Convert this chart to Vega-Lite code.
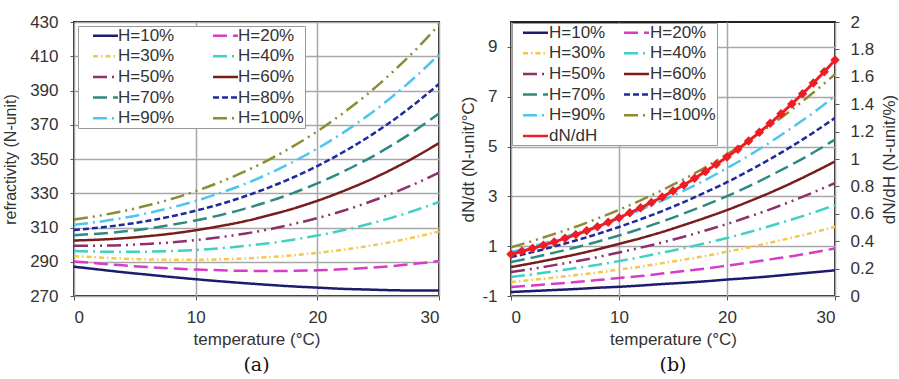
{
"$schema": "https://vega.github.io/schema/vega-lite/v6.json",
"padding": {"left": 1, "top": 12, "right": 2, "bottom": 2},
"spacing": 17,
"config": {
  "font": "Liberation Sans",
  "view": {"stroke": "#222", "strokeWidth": 2},
  "axis": {"labelFontSize": 17, "titleFontSize": 17, "titleFontWeight": "normal", "labelColor": "#333", "titleColor": "#333", "gridColor": "#a8a8a8", "gridWidth": 1.5, "domain": false, "tickColor": "#555", "tickSize": 4},
  "legend": {"labelFontSize": 17, "labelColor": "#333"}
},
"datasets": {
"a": [
{"T":0,"s":"H=10%","v":287.1},{"T":0,"s":"H=20%","v":290.2},{"T":0,"s":"H=30%","v":293.3},{"T":0,"s":"H=40%","v":296.3},{"T":0,"s":"H=50%","v":299.4},{"T":0,"s":"H=60%","v":302.4},{"T":0,"s":"H=70%","v":305.5},{"T":0,"s":"H=80%","v":308.5},{"T":0,"s":"H=90%","v":311.6},{"T":0,"s":"H=100%","v":314.6},
{"T":2,"s":"H=10%","v":285.5},{"T":2,"s":"H=20%","v":289.0},{"T":2,"s":"H=30%","v":292.5},{"T":2,"s":"H=40%","v":295.9},{"T":2,"s":"H=50%","v":299.4},{"T":2,"s":"H=60%","v":302.9},{"T":2,"s":"H=70%","v":306.4},{"T":2,"s":"H=80%","v":309.9},{"T":2,"s":"H=90%","v":313.3},{"T":2,"s":"H=100%","v":316.8},
{"T":4,"s":"H=10%","v":283.9},{"T":4,"s":"H=20%","v":287.9},{"T":4,"s":"H=30%","v":291.8},{"T":4,"s":"H=40%","v":295.8},{"T":4,"s":"H=50%","v":299.7},{"T":4,"s":"H=60%","v":303.7},{"T":4,"s":"H=70%","v":307.6},{"T":4,"s":"H=80%","v":311.6},{"T":4,"s":"H=90%","v":315.5},{"T":4,"s":"H=100%","v":319.5},
{"T":6,"s":"H=10%","v":282.5},{"T":6,"s":"H=20%","v":286.9},{"T":6,"s":"H=30%","v":291.4},{"T":6,"s":"H=40%","v":295.9},{"T":6,"s":"H=50%","v":300.4},{"T":6,"s":"H=60%","v":304.9},{"T":6,"s":"H=70%","v":309.3},{"T":6,"s":"H=80%","v":313.8},{"T":6,"s":"H=90%","v":318.3},{"T":6,"s":"H=100%","v":322.8},
{"T":8,"s":"H=10%","v":281.1},{"T":8,"s":"H=20%","v":286.1},{"T":8,"s":"H=30%","v":291.2},{"T":8,"s":"H=40%","v":296.3},{"T":8,"s":"H=50%","v":301.3},{"T":8,"s":"H=60%","v":306.4},{"T":8,"s":"H=70%","v":311.5},{"T":8,"s":"H=80%","v":316.5},{"T":8,"s":"H=90%","v":321.6},{"T":8,"s":"H=100%","v":326.6},
{"T":10,"s":"H=10%","v":279.8},{"T":10,"s":"H=20%","v":285.5},{"T":10,"s":"H=30%","v":291.2},{"T":10,"s":"H=40%","v":296.9},{"T":10,"s":"H=50%","v":302.6},{"T":10,"s":"H=60%","v":308.4},{"T":10,"s":"H=70%","v":314.1},{"T":10,"s":"H=80%","v":319.8},{"T":10,"s":"H=90%","v":325.5},{"T":10,"s":"H=100%","v":331.2},
{"T":12,"s":"H=10%","v":278.6},{"T":12,"s":"H=20%","v":285.0},{"T":12,"s":"H=30%","v":291.4},{"T":12,"s":"H=40%","v":297.9},{"T":12,"s":"H=50%","v":304.3},{"T":12,"s":"H=60%","v":310.8},{"T":12,"s":"H=70%","v":317.2},{"T":12,"s":"H=80%","v":323.6},{"T":12,"s":"H=90%","v":330.1},{"T":12,"s":"H=100%","v":336.5},
{"T":14,"s":"H=10%","v":277.5},{"T":14,"s":"H=20%","v":284.7},{"T":14,"s":"H=30%","v":291.9},{"T":14,"s":"H=40%","v":299.2},{"T":14,"s":"H=50%","v":306.4},{"T":14,"s":"H=60%","v":313.6},{"T":14,"s":"H=70%","v":320.9},{"T":14,"s":"H=80%","v":328.1},{"T":14,"s":"H=90%","v":335.3},{"T":14,"s":"H=100%","v":342.6},
{"T":16,"s":"H=10%","v":276.5},{"T":16,"s":"H=20%","v":284.6},{"T":16,"s":"H=30%","v":292.7},{"T":16,"s":"H=40%","v":300.8},{"T":16,"s":"H=50%","v":308.9},{"T":16,"s":"H=60%","v":317.1},{"T":16,"s":"H=70%","v":325.2},{"T":16,"s":"H=80%","v":333.3},{"T":16,"s":"H=90%","v":341.4},{"T":16,"s":"H=100%","v":349.5},
{"T":18,"s":"H=10%","v":275.6},{"T":18,"s":"H=20%","v":284.7},{"T":18,"s":"H=30%","v":293.8},{"T":18,"s":"H=40%","v":302.9},{"T":18,"s":"H=50%","v":312.0},{"T":18,"s":"H=60%","v":321.0},{"T":18,"s":"H=70%","v":330.1},{"T":18,"s":"H=80%","v":339.2},{"T":18,"s":"H=90%","v":348.3},{"T":18,"s":"H=100%","v":357.4},
{"T":20,"s":"H=10%","v":274.9},{"T":20,"s":"H=20%","v":285.0},{"T":20,"s":"H=30%","v":295.2},{"T":20,"s":"H=40%","v":305.3},{"T":20,"s":"H=50%","v":315.5},{"T":20,"s":"H=60%","v":325.6},{"T":20,"s":"H=70%","v":335.8},{"T":20,"s":"H=80%","v":345.9},{"T":20,"s":"H=90%","v":356.1},{"T":20,"s":"H=100%","v":366.2},
{"T":22,"s":"H=10%","v":274.2},{"T":22,"s":"H=20%","v":285.6},{"T":22,"s":"H=30%","v":296.9},{"T":22,"s":"H=40%","v":308.2},{"T":22,"s":"H=50%","v":319.5},{"T":22,"s":"H=60%","v":330.9},{"T":22,"s":"H=70%","v":342.2},{"T":22,"s":"H=80%","v":353.5},{"T":22,"s":"H=90%","v":364.8},{"T":22,"s":"H=100%","v":376.2},
{"T":24,"s":"H=10%","v":273.8},{"T":24,"s":"H=20%","v":286.4},{"T":24,"s":"H=30%","v":299.0},{"T":24,"s":"H=40%","v":311.6},{"T":24,"s":"H=50%","v":324.2},{"T":24,"s":"H=60%","v":336.8},{"T":24,"s":"H=70%","v":349.4},{"T":24,"s":"H=80%","v":362.0},{"T":24,"s":"H=90%","v":374.6},{"T":24,"s":"H=100%","v":387.2},
{"T":26,"s":"H=10%","v":273.4},{"T":26,"s":"H=20%","v":287.4},{"T":26,"s":"H=30%","v":301.4},{"T":26,"s":"H=40%","v":315.5},{"T":26,"s":"H=50%","v":329.5},{"T":26,"s":"H=60%","v":343.5},{"T":26,"s":"H=70%","v":357.5},{"T":26,"s":"H=80%","v":371.5},{"T":26,"s":"H=90%","v":385.5},{"T":26,"s":"H=100%","v":399.6},
{"T":28,"s":"H=10%","v":273.2},{"T":28,"s":"H=20%","v":288.8},{"T":28,"s":"H=30%","v":304.3},{"T":28,"s":"H=40%","v":319.9},{"T":28,"s":"H=50%","v":335.4},{"T":28,"s":"H=60%","v":351.0},{"T":28,"s":"H=70%","v":366.5},{"T":28,"s":"H=80%","v":382.1},{"T":28,"s":"H=90%","v":397.6},{"T":28,"s":"H=100%","v":413.2},
{"T":30,"s":"H=10%","v":273.2},{"T":30,"s":"H=20%","v":290.4},{"T":30,"s":"H=30%","v":307.7},{"T":30,"s":"H=40%","v":324.9},{"T":30,"s":"H=50%","v":342.1},{"T":30,"s":"H=60%","v":359.3},{"T":30,"s":"H=70%","v":376.6},{"T":30,"s":"H=80%","v":393.8},{"T":30,"s":"H=90%","v":411.0},{"T":30,"s":"H=100%","v":428.3}
],
"b": [
{"T":0,"s":"H=10%","v":-0.84},{"T":0,"s":"H=20%","v":-0.64},{"T":0,"s":"H=30%","v":-0.44},{"T":0,"s":"H=40%","v":-0.24},{"T":0,"s":"H=50%","v":-0.04},{"T":0,"s":"H=60%","v":0.16},{"T":0,"s":"H=70%","v":0.36},{"T":0,"s":"H=80%","v":0.56},{"T":0,"s":"H=90%","v":0.76},{"T":0,"s":"H=100%","v":0.96},
{"T":2,"s":"H=10%","v":-0.80},{"T":2,"s":"H=20%","v":-0.58},{"T":2,"s":"H=30%","v":-0.35},{"T":2,"s":"H=40%","v":-0.13},{"T":2,"s":"H=50%","v":0.09},{"T":2,"s":"H=60%","v":0.32},{"T":2,"s":"H=70%","v":0.54},{"T":2,"s":"H=80%","v":0.76},{"T":2,"s":"H=90%","v":0.99},{"T":2,"s":"H=100%","v":1.21},
{"T":4,"s":"H=10%","v":-0.76},{"T":4,"s":"H=20%","v":-0.51},{"T":4,"s":"H=30%","v":-0.26},{"T":4,"s":"H=40%","v":-0.01},{"T":4,"s":"H=50%","v":0.24},{"T":4,"s":"H=60%","v":0.49},{"T":4,"s":"H=70%","v":0.74},{"T":4,"s":"H=80%","v":0.99},{"T":4,"s":"H=90%","v":1.24},{"T":4,"s":"H=100%","v":1.49},
{"T":6,"s":"H=10%","v":-0.72},{"T":6,"s":"H=20%","v":-0.44},{"T":6,"s":"H=30%","v":-0.16},{"T":6,"s":"H=40%","v":0.12},{"T":6,"s":"H=50%","v":0.39},{"T":6,"s":"H=60%","v":0.67},{"T":6,"s":"H=70%","v":0.95},{"T":6,"s":"H=80%","v":1.23},{"T":6,"s":"H=90%","v":1.51},{"T":6,"s":"H=100%","v":1.78},
{"T":8,"s":"H=10%","v":-0.67},{"T":8,"s":"H=20%","v":-0.36},{"T":8,"s":"H=30%","v":-0.06},{"T":8,"s":"H=40%","v":0.25},{"T":8,"s":"H=50%","v":0.56},{"T":8,"s":"H=60%","v":0.87},{"T":8,"s":"H=70%","v":1.18},{"T":8,"s":"H=80%","v":1.49},{"T":8,"s":"H=90%","v":1.80},{"T":8,"s":"H=100%","v":2.11},
{"T":10,"s":"H=10%","v":-0.63},{"T":10,"s":"H=20%","v":-0.28},{"T":10,"s":"H=30%","v":0.06},{"T":10,"s":"H=40%","v":0.40},{"T":10,"s":"H=50%","v":0.75},{"T":10,"s":"H=60%","v":1.09},{"T":10,"s":"H=70%","v":1.43},{"T":10,"s":"H=80%","v":1.77},{"T":10,"s":"H=90%","v":2.12},{"T":10,"s":"H=100%","v":2.46},
{"T":12,"s":"H=10%","v":-0.58},{"T":12,"s":"H=20%","v":-0.20},{"T":12,"s":"H=30%","v":0.18},{"T":12,"s":"H=40%","v":0.56},{"T":12,"s":"H=50%","v":0.94},{"T":12,"s":"H=60%","v":1.32},{"T":12,"s":"H=70%","v":1.70},{"T":12,"s":"H=80%","v":2.08},{"T":12,"s":"H=90%","v":2.46},{"T":12,"s":"H=100%","v":2.84},
{"T":14,"s":"H=10%","v":-0.52},{"T":14,"s":"H=20%","v":-0.10},{"T":14,"s":"H=30%","v":0.32},{"T":14,"s":"H=40%","v":0.74},{"T":14,"s":"H=50%","v":1.15},{"T":14,"s":"H=60%","v":1.57},{"T":14,"s":"H=70%","v":1.99},{"T":14,"s":"H=80%","v":2.41},{"T":14,"s":"H=90%","v":2.83},{"T":14,"s":"H=100%","v":3.25},
{"T":16,"s":"H=10%","v":-0.47},{"T":16,"s":"H=20%","v":0.00},{"T":16,"s":"H=30%","v":0.46},{"T":16,"s":"H=40%","v":0.92},{"T":16,"s":"H=50%","v":1.38},{"T":16,"s":"H=60%","v":1.85},{"T":16,"s":"H=70%","v":2.31},{"T":16,"s":"H=80%","v":2.77},{"T":16,"s":"H=90%","v":3.23},{"T":16,"s":"H=100%","v":3.69},
{"T":18,"s":"H=10%","v":-0.41},{"T":18,"s":"H=20%","v":0.10},{"T":18,"s":"H=30%","v":0.61},{"T":18,"s":"H=40%","v":1.12},{"T":18,"s":"H=50%","v":1.63},{"T":18,"s":"H=60%","v":2.14},{"T":18,"s":"H=70%","v":2.65},{"T":18,"s":"H=80%","v":3.16},{"T":18,"s":"H=90%","v":3.66},{"T":18,"s":"H=100%","v":4.17},
{"T":20,"s":"H=10%","v":-0.34},{"T":20,"s":"H=20%","v":0.22},{"T":20,"s":"H=30%","v":0.78},{"T":20,"s":"H=40%","v":1.33},{"T":20,"s":"H=50%","v":1.89},{"T":20,"s":"H=60%","v":2.45},{"T":20,"s":"H=70%","v":3.01},{"T":20,"s":"H=80%","v":3.57},{"T":20,"s":"H=90%","v":4.13},{"T":20,"s":"H=100%","v":4.69},
{"T":22,"s":"H=10%","v":-0.28},{"T":22,"s":"H=20%","v":0.34},{"T":22,"s":"H=30%","v":0.95},{"T":22,"s":"H=40%","v":1.56},{"T":22,"s":"H=50%","v":2.18},{"T":22,"s":"H=60%","v":2.79},{"T":22,"s":"H=70%","v":3.40},{"T":22,"s":"H=80%","v":4.02},{"T":22,"s":"H=90%","v":4.63},{"T":22,"s":"H=100%","v":5.24},
{"T":24,"s":"H=10%","v":-0.21},{"T":24,"s":"H=20%","v":0.47},{"T":24,"s":"H=30%","v":1.14},{"T":24,"s":"H=40%","v":1.81},{"T":24,"s":"H=50%","v":2.48},{"T":24,"s":"H=60%","v":3.15},{"T":24,"s":"H=70%","v":3.83},{"T":24,"s":"H=80%","v":4.50},{"T":24,"s":"H=90%","v":5.17},{"T":24,"s":"H=100%","v":5.84},
{"T":26,"s":"H=10%","v":-0.13},{"T":26,"s":"H=20%","v":0.60},{"T":26,"s":"H=30%","v":1.34},{"T":26,"s":"H=40%","v":2.07},{"T":26,"s":"H=50%","v":2.81},{"T":26,"s":"H=60%","v":3.54},{"T":26,"s":"H=70%","v":4.28},{"T":26,"s":"H=80%","v":5.01},{"T":26,"s":"H=90%","v":5.75},{"T":26,"s":"H=100%","v":6.48},
{"T":28,"s":"H=10%","v":-0.05},{"T":28,"s":"H=20%","v":0.75},{"T":28,"s":"H=30%","v":1.55},{"T":28,"s":"H=40%","v":2.35},{"T":28,"s":"H=50%","v":3.16},{"T":28,"s":"H=60%","v":3.96},{"T":28,"s":"H=70%","v":4.76},{"T":28,"s":"H=80%","v":5.56},{"T":28,"s":"H=90%","v":6.36},{"T":28,"s":"H=100%","v":7.17},
{"T":30,"s":"H=10%","v":0.03},{"T":30,"s":"H=20%","v":0.91},{"T":30,"s":"H=30%","v":1.78},{"T":30,"s":"H=40%","v":2.65},{"T":30,"s":"H=50%","v":3.53},{"T":30,"s":"H=60%","v":4.40},{"T":30,"s":"H=70%","v":5.28},{"T":30,"s":"H=80%","v":6.15},{"T":30,"s":"H=90%","v":7.03},{"T":30,"s":"H=100%","v":7.90}
],
"h": [
{"T":0,"s":"dN/dH","v":0.305},{"T":1,"s":"dN/dH","v":0.326},{"T":2,"s":"dN/dH","v":0.348},{"T":3,"s":"dN/dH","v":0.371},{"T":4,"s":"dN/dH","v":0.395},{"T":5,"s":"dN/dH","v":0.421},{"T":6,"s":"dN/dH","v":0.448},{"T":7,"s":"dN/dH","v":0.476},{"T":8,"s":"dN/dH","v":0.506},{"T":9,"s":"dN/dH","v":0.538},{"T":10,"s":"dN/dH","v":0.572},{"T":11,"s":"dN/dH","v":0.607},{"T":12,"s":"dN/dH","v":0.644},{"T":13,"s":"dN/dH","v":0.683},{"T":14,"s":"dN/dH","v":0.723},{"T":15,"s":"dN/dH","v":0.766},{"T":16,"s":"dN/dH","v":0.811},{"T":17,"s":"dN/dH","v":0.859},{"T":18,"s":"dN/dH","v":0.909},{"T":19,"s":"dN/dH","v":0.961},{"T":20,"s":"dN/dH","v":1.015},{"T":21,"s":"dN/dH","v":1.072},{"T":22,"s":"dN/dH","v":1.132},{"T":23,"s":"dN/dH","v":1.195},{"T":24,"s":"dN/dH","v":1.261},{"T":25,"s":"dN/dH","v":1.330},{"T":26,"s":"dN/dH","v":1.402},{"T":27,"s":"dN/dH","v":1.477},{"T":28,"s":"dN/dH","v":1.555},{"T":29,"s":"dN/dH","v":1.637},{"T":30,"s":"dN/dH","v":1.723}
]
},
"hconcat": [
{
  "width": 365, "height": 274,
  "title": {"text": "(a)", "orient": "bottom", "font": "DejaVu Serif", "fontSize": 19, "fontWeight": "normal", "color": "#111", "offset": 9},
  "data": {"name": "a"},
  "mark": {"type": "line", "strokeWidth": 2.5, "interpolate": "monotone", "clip": true},
  "encoding": {
    "x": {"field": "T", "type": "quantitative", "scale": {"domain": [0, 30], "nice": false}, "axis": {"values": [0, 10, 20, 30], "title": "temperature (°C)", "labelPadding": 9, "titlePadding": 6}},
    "y": {"field": "v", "type": "quantitative", "scale": {"domain": [270, 430], "nice": false, "zero": false}, "axis": {"values": [270, 290, 310, 330, 350, 370, 390, 410, 430], "title": "refractivity (N-unit)", "titleFontSize": 16, "titleLimit": 300, "labelPadding": 12, "titlePadding": 11}},
    "color": {"field": "s", "type": "nominal",
      "scale": {"domain": ["H=10%","H=20%","H=30%","H=40%","H=50%","H=60%","H=70%","H=80%","H=90%","H=100%"],
                "range": ["#1c1c6e","#d63cc8","#f2c94c","#3fd1c4","#8e2f6e","#7a1c1c","#2e8a80","#1e2a9e","#4cc6f0","#8c8c32"]},
      "legend": {"title": null, "orient": "top-left", "direction": "horizontal", "columns": 2, "offset": 4, "padding": 1, "fillColor": "white", "strokeColor": "#9a9a9a", "symbolType": "M1.1,0H6.1", "symbolSize": 100, "symbolStrokeWidth": 2.5, "labelOffset": 22, "rowPadding": 2.7, "columnPadding": 24}},
    "strokeDash": {"field": "s", "type": "nominal",
      "scale": {"domain": ["H=10%","H=20%","H=30%","H=40%","H=50%","H=60%","H=70%","H=80%","H=90%","H=100%"],
                "range": [[1,0],[14,6],[5,3,1.5,3],[14,5,2,5],[14,5,2,5,2,5],[1,0],[14,6],[6,3],[14,5,2,5],[14,5,2,5,2,5]]},
      "legend": {"title": null, "orient": "top-left", "direction": "horizontal", "columns": 2, "offset": 4, "padding": 1, "fillColor": "white", "strokeColor": "#9a9a9a", "symbolType": "M1.1,0H6.1", "symbolSize": 100, "symbolStrokeWidth": 2.5, "labelOffset": 22, "rowPadding": 2.7, "columnPadding": 24}}
  }
},
{
  "width": 324, "height": 274,
  "title": {"text": "(b)", "orient": "bottom", "font": "DejaVu Serif", "fontSize": 19, "fontWeight": "normal", "color": "#111", "offset": 9},
  "layer": [
    {
      "data": {"name": "b"},
      "mark": {"type": "line", "strokeWidth": 2.5, "interpolate": "monotone", "clip": true},
      "encoding": {
        "x": {"field": "T", "type": "quantitative", "scale": {"domain": [0, 30], "nice": false}, "axis": {"values": [0, 10, 20, 30], "title": "temperature (°C)", "labelPadding": 9, "titlePadding": 6}},
        "y": {"field": "v", "type": "quantitative", "scale": {"domain": [-1, 10], "nice": false, "zero": false}, "axis": {"values": [-1, 1, 3, 5, 7, 9], "title": "dN/dt (N-unit/°C)", "labelPadding": 10, "titlePadding": 4, "labelExpr": "'' + datum.value"}},
        "color": {"field": "s", "type": "nominal",
          "scale": {"domain": ["H=10%","H=20%","H=30%","H=40%","H=50%","H=60%","H=70%","H=80%","H=90%","H=100%","dN/dH"],
                    "range": ["#1c1c6e","#d63cc8","#f2c94c","#3fd1c4","#8e2f6e","#7a1c1c","#2e8a80","#1e2a9e","#4cc6f0","#8c8c32","#ee1c25"]},
          "legend": {"title": null, "orient": "top-left", "direction": "horizontal", "columns": 2, "offset": 1, "padding": 1, "fillColor": "white", "strokeColor": "#9a9a9a", "symbolType": "M0.3,0H5.3", "symbolSize": 100, "symbolStrokeWidth": 2.5, "labelOffset": 19, "rowPadding": 2.7, "columnPadding": 8}},
        "strokeDash": {"field": "s", "type": "nominal",
          "scale": {"domain": ["H=10%","H=20%","H=30%","H=40%","H=50%","H=60%","H=70%","H=80%","H=90%","H=100%","dN/dH"],
                    "range": [[1,0],[14,6],[5,3,1.5,3],[14,5,2,5],[14,5,2,5,2,5],[1,0],[14,6],[6,3],[14,5,2,5],[14,5,2,5,2,5],[1,0]]},
          "legend": {"title": null, "orient": "top-left", "direction": "horizontal", "columns": 2, "offset": 1, "padding": 1, "fillColor": "white", "strokeColor": "#9a9a9a", "symbolType": "M0.3,0H5.3", "symbolSize": 100, "symbolStrokeWidth": 2.5, "labelOffset": 19, "rowPadding": 2.7, "columnPadding": 8}}
      }
    },
    {
      "data": {"name": "h"},
      "mark": {"type": "line", "strokeWidth": 3, "interpolate": "monotone", "point": {"shape": "diamond", "filled": true, "size": 90}},
      "encoding": {
        "x": {"field": "T", "type": "quantitative", "scale": {"domain": [0, 30], "nice": false}},
        "y": {"field": "v", "type": "quantitative", "scale": {"domain": [0, 2], "nice": false, "zero": false}, "axis": {"orient": "right", "values": [0, 0.2, 0.4, 0.6, 0.8, 1, 1.2, 1.4, 1.6, 1.8, 2], "format": "~g", "grid": false, "title": "dN/dH (N-unit/%)", "titleAngle": -90, "titleBaseline": "top", "labelPadding": 11, "titlePadding": 8}},
        "color": {"field": "s", "type": "nominal"},
        "strokeDash": {"field": "s", "type": "nominal"}
      }
    }
  ],
  "resolve": {"scale": {"y": "independent"}}
}
],
"resolve": {"scale": {"color": "independent", "strokeDash": "independent"}, "legend": {"color": "independent", "strokeDash": "independent"}}
}
